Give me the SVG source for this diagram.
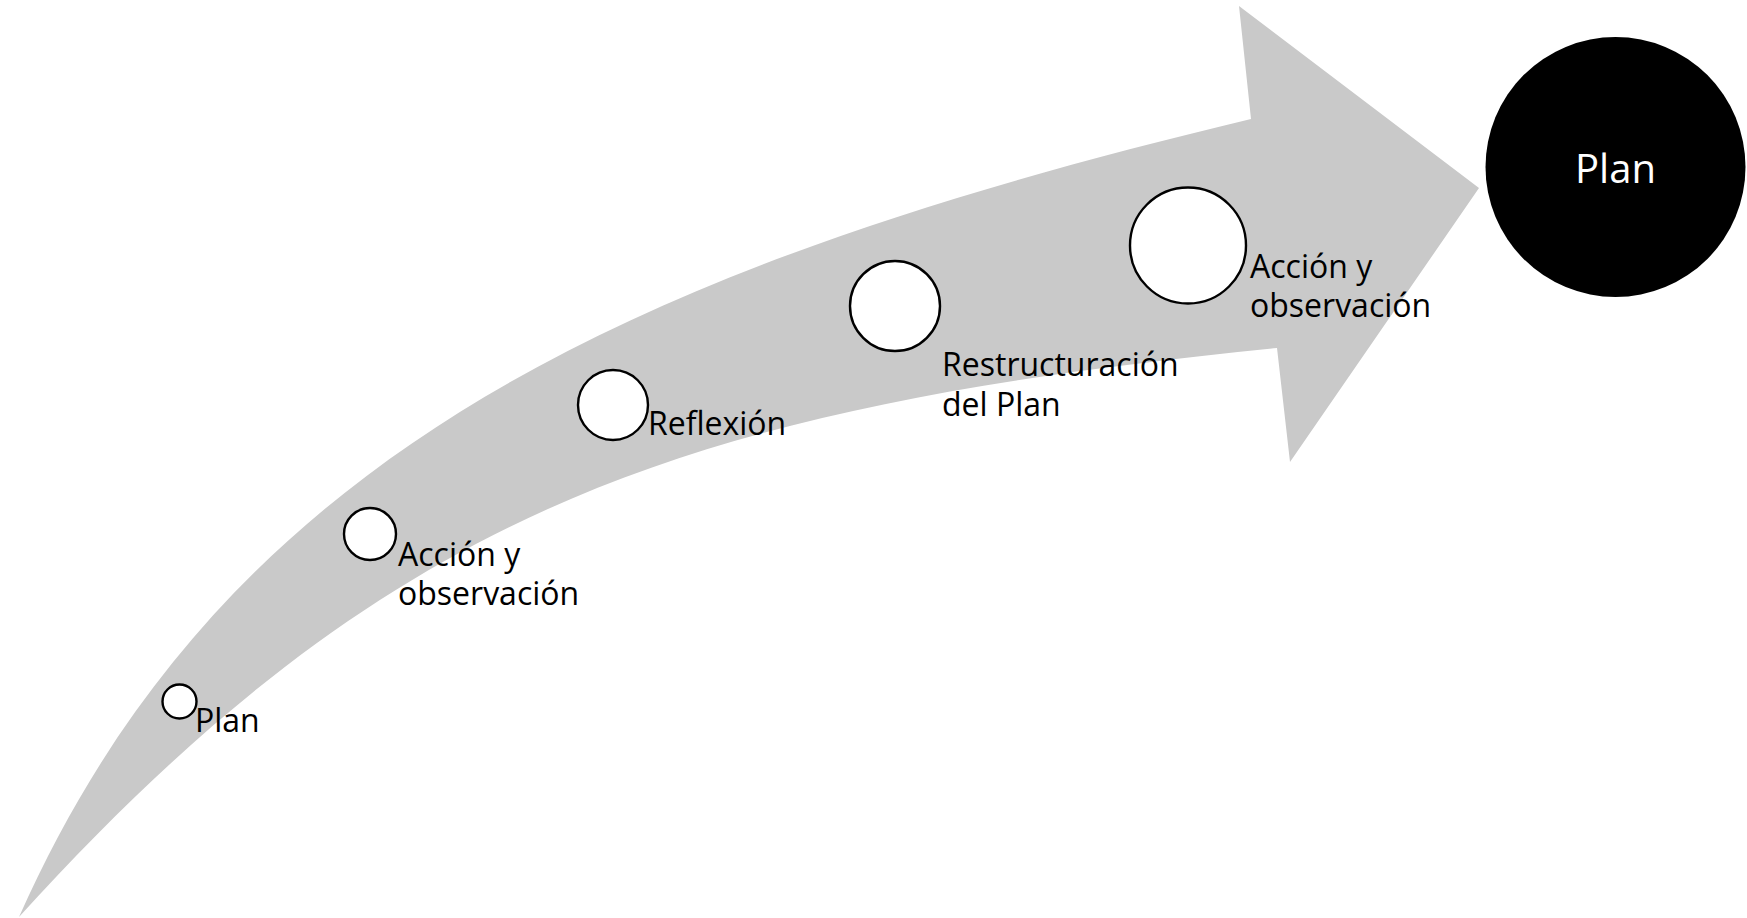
<svg xmlns="http://www.w3.org/2000/svg" width="1747" height="918" viewBox="0 0 1747 918">
<style>
.bg{fill:#ffffff}
.band{fill:#c9c9c9;stroke:none}
.dot{fill:#ffffff;stroke:#000000;stroke-width:2.4}
.lbl{font-family:"Open Sans","Liberation Sans",sans-serif;font-size:32px;fill:#000000}
.big{fill:#000000;stroke:none}
.bigt{font-family:"Open Sans","Liberation Sans",sans-serif;font-size:40px;fill:#ffffff;text-anchor:middle}
</style>
<rect class="bg" x="0" y="0" width="1747" height="918"/>
<g id="arrow">
<path class="band" d="M19,917 C222,460 619,270 1251,119 L1239,6 L1479,188 L1290,462 L1277,348 C680,408 389,510 19,917 Z"/>
</g>
<g id="connectors"></g>
<g id="step1">
<circle class="dot" cx="179.5" cy="701.5" r="17"/>
<text class="lbl" x="195" y="732">Plan</text>
</g>
<g id="step2">
<circle class="dot" cx="370" cy="534" r="26"/>
<text class="lbl" x="398" y="566">Acción y</text>
<text class="lbl" x="398" y="605">observación</text>
</g>
<g id="step3">
<circle class="dot" cx="613" cy="405" r="35"/>
<text class="lbl" x="648" y="435">Reflexión</text>
</g>
<g id="step4">
<circle class="dot" cx="895" cy="306" r="45"/>
<text class="lbl" x="942" y="376">Restructuración</text>
<text class="lbl" x="942" y="416">del Plan</text>
</g>
<g id="step5">
<circle class="dot" cx="1188" cy="245.5" r="58"/>
<text class="lbl" x="1250" y="278">Acción y</text>
<text class="lbl" x="1250" y="317">observación</text>
</g>
<g id="goal">
<circle class="big" cx="1615.5" cy="167" r="130"/>
<text class="bigt" x="1615.5" y="183">Plan</text>
</g>
</svg>
